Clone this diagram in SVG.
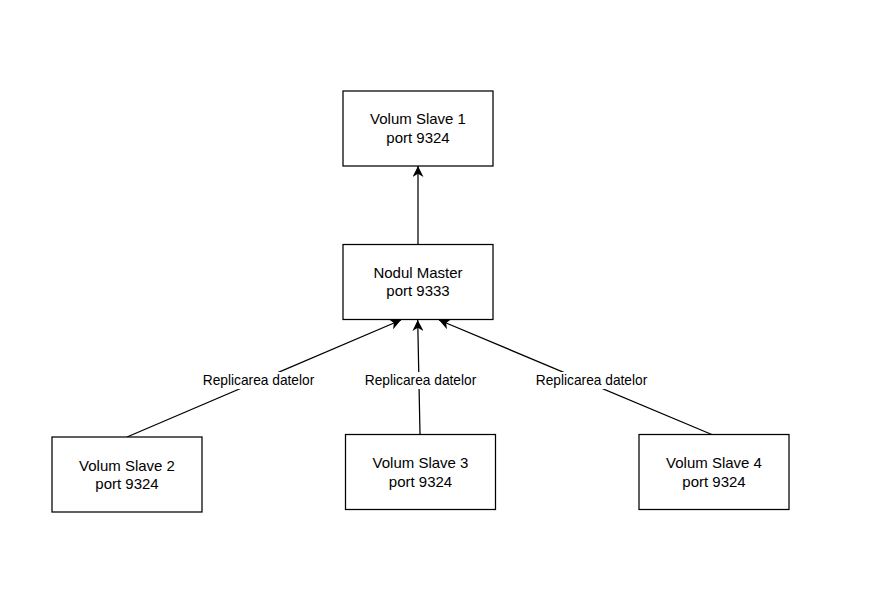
<svg xmlns="http://www.w3.org/2000/svg" width="884" height="607" viewBox="0 0 884 607">
<style>
.box{fill:#fff;stroke:#000;stroke-width:1.25}
.t{font-family:"Liberation Sans",Arial,Helvetica,sans-serif;font-size:15px;fill:#000;text-anchor:middle}
.lbl{font-family:"Liberation Sans",Arial,Helvetica,sans-serif;font-size:13.75px;fill:#000;text-anchor:middle}
.e{fill:none;stroke:#000;stroke-width:1.25}
.lb{fill:#fff}
</style>
<defs>
<marker id="arr" markerUnits="userSpaceOnUse" viewBox="0 0 10 10" markerWidth="12" markerHeight="11" refX="10" refY="5" orient="auto">
<path d="M0,0 L10,5 L0,10 L3,5 z" fill="#000"/>
</marker>
</defs>
<rect width="884" height="607" fill="#fff"/>
<g id="connectors">
<line class="e" x1="418" y1="244" x2="418" y2="166" marker-end="url(#arr)"/>
<line class="e" x1="127" y1="437" x2="401" y2="320" marker-end="url(#arr)"/>
<line class="e" x1="420" y1="434" x2="417.7" y2="320" marker-end="url(#arr)"/>
<line class="e" x1="713" y1="435" x2="439" y2="320" marker-end="url(#arr)"/>
<rect class="lb" x="202" y="372" width="113" height="17"/>
<text class="lbl" x="258.5" y="385">Replicarea datelor</text>
<rect class="lb" x="364" y="372" width="113" height="17"/>
<text class="lbl" x="420.5" y="385">Replicarea datelor</text>
<rect class="lb" x="535" y="372" width="113" height="17"/>
<text class="lbl" x="591.5" y="385">Replicarea datelor</text>
</g>
<g id="slave1">
<rect class="box" x="343" y="91" width="150" height="75"/>
<text class="t" x="418" y="124">Volum Slave 1</text>
<text class="t" x="418" y="142.5">port 9324</text>
</g>
<g id="master">
<rect class="box" x="343" y="244.5" width="150" height="75"/>
<text class="t" x="418" y="277.5">Nodul Master</text>
<text class="t" x="418" y="296">port 9333</text>
</g>
<g id="slave2">
<rect class="box" x="52" y="437" width="150" height="75"/>
<text class="t" x="127" y="470.5">Volum Slave 2</text>
<text class="t" x="127" y="489">port 9324</text>
</g>
<g id="slave3">
<rect class="box" x="345.5" y="434.5" width="150" height="75"/>
<text class="t" x="420.5" y="468">Volum Slave 3</text>
<text class="t" x="420.5" y="486.5">port 9324</text>
</g>
<g id="slave4">
<rect class="box" x="639" y="434.5" width="150" height="75"/>
<text class="t" x="714" y="468">Volum Slave 4</text>
<text class="t" x="714" y="486.5">port 9324</text>
</g>
</svg>
